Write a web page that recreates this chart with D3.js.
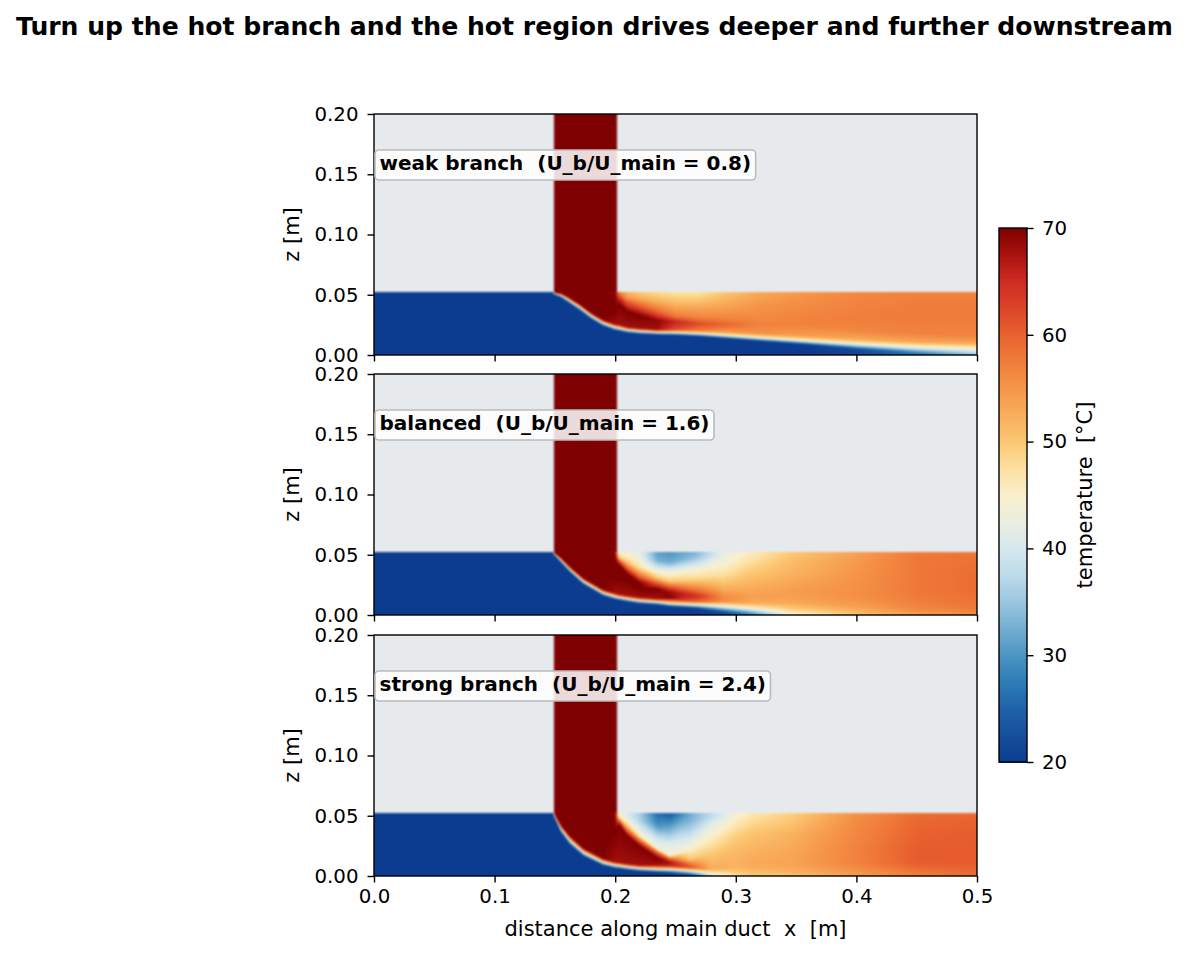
<!DOCTYPE html>
<html>
<head>
<meta charset="utf-8">
<script src="https://cdnjs.cloudflare.com/ajax/libs/d3/7.8.5/d3.min.js"></script>
<style>
  html, body { margin: 0; padding: 0; background: #fff; }
  svg { display: block; font-family: "DejaVu Sans", sans-serif; }
  text { white-space: pre; fill: #000; }
</style>
</head>
<body>
<script>
// temperature field is stored as vertical profiles in the main duct:
// one row per x station, z = stop heights, T = temp at wall, at each stop, at duct top

const titleText = 'Turn up the hot branch and the hot region drives deeper and further downstream';
const panelLabels = ['weak branch  (U_b/U_main = 0.8)', 'balanced  (U_b/U_main = 1.6)', 'strong branch  (U_b/U_main = 2.4)'];
const xTicks = [0, 0.1, 0.2, 0.3, 0.4, 0.5];
const zTicks = [0, 0.05, 0.1, 0.15, 0.2];
const cbarTicks = [20, 30, 40, 50, 60, 70];

const ductTop = 0.052;
const branchLeft = 0.1493, branchRight = 0.2011;
const hotTemp = 70;
const solidColor = '#e7eaed';

const cmapTemps = [20, 25, 27.5, 30, 32.5, 35, 37.5, 40, 42.5, 45, 47.5, 50, 52.5, 55, 57.5, 60, 62.5, 65, 67.5, 70];
const cmapColors = ['#0c3c8f', '#1f62a8', '#2d7bb6', '#4b94c2', '#74add1', '#9ac6de', '#bcdaea', '#d6e8ee', '#ebeee0', '#f9efcc',
  '#fddfa0', '#fbc873', '#f9ae5c', '#f59549', '#f07d3a', '#e8622f', '#dc4529', '#cf2c23', '#a9130f', '#7f0000'];

const weakX = [0, 0.1485, 0.15, 0.155, 0.16, 0.17, 0.18, 0.19, 0.2, 0.203, 0.21, 0.22, 0.235, 0.25, 0.27, 0.29, 0.32, 0.36, 0.4, 0.45, 0.5];
const weakZ = [
  [.05, .0505, .051, .0512, .0514, .0516],
  [.05, .0505, .051, .0512, .0514, .0516],
  [.0498, .0511, .0516, .0517, .0518, .0519],
  [.0478, .0495, .0511, .0513, .0515, .0517],
  [.0443, .0465, .0487, .0495, .0505, .0513],
  [.0375, .04, .0425, .045, .048, .05],
  [.03, .0325, .035, .04, .045, .05],
  [.024, .0266, .029, .036, .042, .048],
  [.0205, .0228, .0255, .035, .045, .05],
  [.02, .0224, .025, .0426, .0467, .05],
  [.0185, .0207, .023, .036, .043, .048],
  [.0175, .0197, .022, .033, .041, .048],
  [.0168, .0188, .021, .0288, .0357, .045],
  [.0165, .0186, .021, .0275, .032, .042],
  [.0155, .0177, .0205, .026, .031, .042],
  [.014, .0163, .0195, .025, .031, .042],
  [.0115, .0143, .0175, .025, .032, .042],
  [.0085, .0117, .0155, .025, .032, .042],
  [.005, .0094, .013, .02, .03, .04],
  [.002, .007, .0105, .018, .03, .04],
  [.0015, .0055, .0095, .016, .03, .04]
];
const weakT = [
  [20, 20, 20, 20, 20, 20, 20, 20],
  [20, 20, 20, 20, 20, 20, 20, 20],
  [20, 20, 45, 70, 70, 70, 70, 70],
  [20, 20, 45, 70, 70, 70, 70, 70],
  [20, 20, 45, 70, 70, 70, 70, 70],
  [20, 20, 45, 70, 70, 70, 70, 70],
  [20, 20, 45, 70, 70, 70, 70, 70],
  [20, 20, 45, 70, 70, 70, 70, 70],
  [20, 20, 45, 68, 70, 70, 70, 69],
  [20, 20, 45, 68, 70, 66, 60, 58],
  [20, 20, 45, 68, 70, 62, 54, 52],
  [20, 20, 45, 68, 70, 60, 52, 50],
  [20, 20, 45, 68, 69, 60, 52, 48],
  [20, 20, 45, 62, 66, 58, 52, 47],
  [20, 20, 45, 58, 62, 57, 52, 47],
  [20, 20, 45, 55, 60, 56.5, 53, 50],
  [20, 20, 45, 55, 57, 56, 55, 53],
  [20, 20, 45, 54, 57, 57, 56, 55],
  [21, 22, 45, 53, 56.5, 57.5, 57, 56.5],
  [26, 28, 45, 53, 57, 57.5, 57.5, 57],
  [34, 37, 45, 53, 57, 57.5, 57.5, 57]
];

const balancedX = [0, 0.1485, 0.15, 0.155, 0.1625, 0.1736, 0.19, 0.2, 0.203, 0.21, 0.22, 0.235, 0.245, 0.2675, 0.2897, 0.3117, 0.345, 0.4, 0.45, 0.5];
const balancedZ = [
  [.05, .0505, .051, .0512, .0514, .0515, .0516, .0518],
  [.05, .0505, .051, .0512, .0514, .0515, .0516, .0518],
  [.049, .0505, .0512, .0514, .0515, .0516, .0517, .0518],
  [.0435, .0454, .0475, .048, .049, .05, .0505, .051],
  [.0355, .0376, .04, .043, .046, .049, .05, .051],
  [.0255, .0279, .0305, .036, .042, .047, .049, .05],
  [.016, .0183, .021, .03, .04, .047, .049, .05],
  [.013, .0152, .018, .03, .042, .048, .05, .051],
  [.0125, .0146, .017, .03, .042, .045, .047, .049],
  [.0112, .0133, .016, .028, .0345, .039, .044, .048],
  [.0095, .0119, .0145, .022, .0271, .032, .039, .047],
  [.0085, .0108, .0135, .0216, .0266, .0307, .0376, .045],
  [.0072, .0097, .0141, .0196, .0238, .0279, .0349, .044],
  [.0055, .0086, .0113, .0155, .021, .0293, .0376, .0473],
  [.003, .0077, .0113, .0155, .021, .0321, .0432, .048],
  [.0017, .0058, .01, .0155, .021, .0349, .0459, .05],
  [.0006, .0044, .01, .0155, .021, .0349, .045, .05],
  [.0006, .003, .0072, .015, .022, .035, .045, .05],
  [.0006, .003, .0058, .012, .022, .035, .045, .05],
  [.0006, .003, .0058, .012, .022, .035, .045, .05]
];
const balancedT = [
  [20, 20, 20, 20, 20, 20, 20, 20, 20, 20],
  [20, 20, 20, 20, 20, 20, 20, 20, 20, 20],
  [20, 20, 45, 70, 70, 70, 70, 70, 70, 70],
  [20, 20, 45, 70, 70, 70, 70, 70, 70, 70],
  [20, 20, 45, 70, 70, 70, 70, 70, 70, 70],
  [20, 20, 45, 70, 70, 70, 70, 70, 70, 70],
  [20, 20, 45, 70, 70, 70, 70, 70, 70, 70],
  [20, 20, 45, 68, 70, 70, 70, 70, 70, 68],
  [20, 20, 45, 68, 70, 70, 62, 52, 47, 45],
  [20, 20, 45, 68, 70, 70, 60, 50, 46, 44],
  [20, 20, 45, 68, 70, 70, 60, 48, 43, 42],
  [20, 20, 45, 68, 70, 60, 50, 42, 33, 31],
  [20, 20, 47, 70, 68, 60, 50, 44, 32, 30],
  [20, 20, 45, 60, 65, 58, 49, 44, 35, 33],
  [20, 24, 45, 56, 56, 53, 48, 44, 43, 42],
  [28, 30, 45, 53, 54, 53, 50, 47, 46, 46],
  [42, 44, 49, 53, 54, 54, 52, 51, 50, 50],
  [50, 51, 52, 54, 55.5, 55.5, 55, 54.5, 54, 54],
  [53, 54, 55.5, 56.5, 57.5, 58, 58, 58, 58, 57.5],
  [55, 56, 57, 58, 58.5, 59, 59, 58.5, 58.5, 58]
];

const strongX = [0, 0.1485, 0.15, 0.1551, 0.1625, 0.1736, 0.19, 0.2, 0.203, 0.21, 0.22, 0.235, 0.2454, 0.262, 0.2785, 0.3007, 0.3145, 0.345, 0.4, 0.45, 0.5];
const strongZ = [
  [.05, .0505, .051, .0512, .0514, .0515, .0516, .0518],
  [.05, .0505, .051, .0512, .0514, .0515, .0516, .0518],
  [.0475, .049, .051, .0512, .0514, .0515, .0516, .0518],
  [.036, .039, .042, .044, .046, .048, .05, .051],
  [.026, .0293, .033, .038, .042, .046, .049, .051],
  [.0165, .0196, .023, .03, .038, .045, .049, .051],
  [.0088, .0113, .0145, .025, .035, .043, .048, .051],
  [.0065, .0088, .0115, .035, .044, .049, .0505, .051],
  [.0062, .0085, .0112, .043, .0465, .048, .0495, .051],
  [.0052, .0075, .01, .0335, .0376, .0418, .0459, .05],
  [.004, .0064, .0088, .0252, .0293, .0335, .0375, .046],
  [.0033, .0055, .009, .015, .0195, .0225, .031, .0432],
  [.0028, .0058, .0085, .0112, .0141, .0169, .0266, .0349],
  [.0017, .0044, .0072, .01, .0141, .0238, .0349, .0459],
  [.0006, .003, .0058, .01, .018, .0293, .04, .048],
  [.0006, .003, .007, .0116, .021, .0349, .0459, .05],
  [.0006, .003, .007, .0116, .021, .0349, .0459, .05],
  [.0006, .003, .007, .0116, .021, .0349, .0459, .05],
  [.0006, .003, .007, .0116, .021, .0349, .0459, .05],
  [.0006, .003, .007, .0116, .021, .0349, .0459, .05],
  [.0006, .003, .007, .0116, .021, .0349, .0459, .05]
];
const strongT = [
  [20, 20, 20, 20, 20, 20, 20, 20, 20, 20],
  [20, 20, 20, 20, 20, 20, 20, 20, 20, 20],
  [20, 20, 45, 70, 70, 70, 70, 70, 70, 70],
  [20, 20, 45, 70, 70, 70, 70, 70, 70, 70],
  [20, 20, 45, 70, 70, 70, 70, 70, 70, 70],
  [20, 20, 45, 70, 70, 70, 70, 70, 70, 70],
  [20, 20, 45, 70, 70, 70, 70, 70, 70, 70],
  [20, 20, 45, 68, 70, 70, 70, 70, 70, 68],
  [20, 20, 45, 68, 70, 60, 50, 46, 44, 43],
  [20, 20, 45, 68, 70, 60, 50, 44, 41, 40],
  [20, 20, 45, 68, 70, 60, 46, 42, 37, 36],
  [20, 20, 45, 68, 70, 60, 44, 39, 29, 26],
  [20, 21, 48, 66, 68, 60, 44, 41, 35, 24],
  [22, 25, 45, 62, 58, 50, 44, 38, 33, 32],
  [36, 38, 47, 53, 52, 50, 46, 42, 38, 37],
  [47, 48, 50, 52, 52, 51.5, 49, 45.5, 44.5, 44],
  [50, 50, 51, 52.5, 53, 52, 50.5, 48, 47, 46],
  [50, 50.5, 52, 53, 53.5, 53, 52, 50, 49.5, 49],
  [54, 54.5, 55, 56, 57, 57, 56.5, 56, 55.5, 55.5],
  [57, 57.5, 58, 59.5, 60.5, 60.5, 60, 59.5, 59, 59],
  [59, 59, 59.5, 60, 60.5, 60.5, 60.5, 60, 59.5, 59]
];

const stationXs = [weakX, balancedX, strongX];
const stationZs = [weakZ, balancedZ, strongZ];
const stationTs = [weakT, balancedT, strongT];

const panelTops = [114, 374, 635];
const plotLeft = 374, plotW = 603, plotH = 241;
const cbarLeft = 999, cbarW = 28, cbarTop = 228, cbarH = 534;
const tickFont = 19.8, labelFont = 21;

const color = d3.scaleLinear().domain(cmapTemps).range(cmapColors).clamp(true);
const x = d3.scaleLinear().domain([0, 0.5]).range([0, plotW]);
const z = d3.scaleLinear().domain([0, 0.2]).range([plotH, 0]);
const solidRgb = d3.rgb(solidColor), hotRgb = d3.rgb(color(hotTemp));

// temperature profile of one column, as a z -> T scale
function columnProfile(p, xv) {
  const xs = stationXs[p];
  let i = d3.bisectRight(xs, xv) - 1;
  i = Math.max(0, Math.min(xs.length - 2, i));
  const f = Math.max(0, Math.min(1, (xv - xs[i]) / (xs[i + 1] - xs[i])));
  const zs = stationZs[p][i].map((v, k) => v + (stationZs[p][i + 1][k] - v) * f);
  const ts = stationTs[p][i].map((v, k) => v + (stationTs[p][i + 1][k] - v) * f);
  return d3.scaleLinear().domain([0, ...zs, ductTop]).range(ts).clamp(true);
}

function fieldImage(p) {
  const m = 4, w = plotW + 2 * m, h = plotH + 2 * m;
  const off = document.createElement('canvas');
  off.width = w; off.height = h;
  const octx = off.getContext('2d');
  const img = octx.createImageData(w, h);
  for (let i = 0; i < w; i++) {
    const xv = Math.max(0, Math.min(0.5, x.invert(i - m + 0.5)));
    const profile = columnProfile(p, xv);
    const inBranch = xv >= branchLeft && xv <= branchRight;
    for (let j = 0; j < h; j++) {
      const zv = Math.max(0, Math.min(0.2, z.invert(j - m + 0.5)));
      let c;
      if (zv > ductTop) c = inBranch ? hotRgb : solidRgb;
      else c = d3.rgb(color(profile(zv)));
      const k = (j * w + i) * 4;
      img.data[k] = c.r; img.data[k + 1] = c.g; img.data[k + 2] = c.b; img.data[k + 3] = 255;
    }
  }
  octx.putImageData(img, 0, 0);

  // soft edges, the original is an upsampled raster
  const out = document.createElement('canvas');
  out.width = plotW; out.height = plotH;
  const ctx = out.getContext('2d');
  ctx.filter = 'blur(1.2px)';
  ctx.drawImage(off, -m, -m);
  return out.toDataURL('image/png');
}

const svg = d3.select('body').append('svg').attr('width', 1189).attr('height', 956);

svg.append('text')
  .attr('x', 594.5).attr('y', 35)
  .attr('text-anchor', 'middle')
  .attr('font-size', 25.1).attr('font-weight', 'bold')
  .text(titleText);

// d3 axes set their own font family on the group, so put ours back
function styleAxis(g) {
  g.attr('font-family', null);
  g.selectAll('path.domain').remove();
  g.selectAll('line').attr('stroke', '#000').attr('stroke-width', 1.4);
  g.selectAll('text').attr('font-size', tickFont).attr('font-family', '"DejaVu Sans", sans-serif').attr('fill', '#000');
}

panelLabels.forEach((label, p) => {
  const g = svg.append('g').attr('transform', `translate(${plotLeft},${panelTops[p]})`);

  g.append('image')
    .attr('width', plotW).attr('height', plotH)
    .attr('href', fieldImage(p));

  g.append('g').call(d3.axisLeft(z).tickValues(zTicks).tickFormat(d3.format('.2f')).tickSize(6.5).tickPadding(9)).call(styleAxis);
  g.append('g').attr('transform', `translate(0,${plotH})`)
    .call(d3.axisBottom(x).tickValues(xTicks).tickFormat(p === 2 ? d3.format('.1f') : '').tickSize(6.5).tickPadding(6)).call(styleAxis);

  g.append('rect')
    .attr('width', plotW).attr('height', plotH)
    .attr('fill', 'none').attr('stroke', '#000').attr('stroke-width', 1.4);

  const box = g.append('rect').attr('fill', '#fff').attr('fill-opacity', 0.85)
    .attr('stroke', '#bbb').attr('stroke-width', 1.6).attr('rx', 4);
  const t = g.append('text')
    .attr('x', 5.5).attr('y', 56)
    .attr('font-size', 20).attr('font-weight', 'bold')
    .text(label);
  const bb = t.node().getBBox();
  box.attr('x', bb.x - 4.5).attr('y', 36).attr('width', bb.width + 9).attr('height', 30);

  g.append('text')
    .attr('transform', `translate(-75,${plotH / 2}) rotate(-90)`)
    .attr('text-anchor', 'middle')
    .attr('font-size', labelFont)
    .text('z [m]');
});

svg.append('text')
  .attr('x', plotLeft + plotW / 2).attr('y', 936)
  .attr('text-anchor', 'middle')
  .attr('font-size', labelFont)
  .text('distance along main duct  x  [m]');

// colorbar
const cbarScale = d3.scaleLinear().domain([20, 70]).range([cbarH, 0]);
const cbar = svg.append('g').attr('transform', `translate(${cbarLeft},${cbarTop})`);
cbar.selectAll('rect.step')
  .data(d3.range(20, 70, 0.1))
  .join('rect')
  .attr('class', 'step')
  .attr('x', 0).attr('width', cbarW)
  .attr('y', d => cbarScale(d + 0.1))
  .attr('height', d => cbarScale(d) - cbarScale(d + 0.1) + 0.5)
  .attr('shape-rendering', 'crispEdges')
  .attr('fill', d => color(d + 0.05));
cbar.append('g').attr('transform', `translate(${cbarW},0)`)
  .call(d3.axisRight(cbarScale).tickValues(cbarTicks).tickFormat(d3.format('d')).tickSize(6.5).tickPadding(8.5)).call(styleAxis);
cbar.append('rect')
  .attr('width', cbarW).attr('height', cbarH)
  .attr('fill', 'none').attr('stroke', '#000').attr('stroke-width', 1.4);
svg.append('text')
  .attr('transform', `translate(1092,${cbarTop + cbarH / 2}) rotate(-90)`)
  .attr('text-anchor', 'middle')
  .attr('font-size', labelFont)
  .text('temperature  [°C]');
</script>
</body>
</html>
